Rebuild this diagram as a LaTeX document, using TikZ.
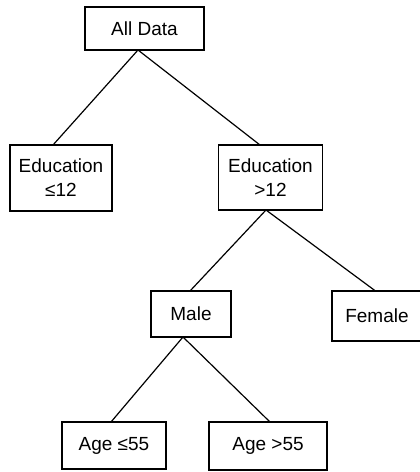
\documentclass[tikz,border=0pt]{standalone}
\usepackage{fontspec}
\setmainfont{Liberation Sans}
\begin{document}
\begin{tikzpicture}[x=1pt,y=-1pt,
  box/.style={draw, line width=1.4pt, inner sep=0pt, outer sep=0pt, align=center,
    font=\fontsize{19}{24}\selectfont},
  link/.style={line width=1.2pt}]
\useasboundingbox (0,0) rectangle (420,472);
\node[box, minimum width=119pt, minimum height=43pt] (all) at (144.5,28.5) {All Data};
\node[box, minimum width=102pt, minimum height=66pt] (edu1) at (61,178) {Education\\≤12};
\node[box, minimum width=104pt, minimum height=65pt] (edu2) at (270.5,177.5) {Education\\>12};
\node[box, minimum width=80pt, minimum height=46pt] (male) at (191,314) {Male};
\node[box, minimum width=90pt, minimum height=50pt] (female) at (377,316) {Female};
\node[box, minimum width=104pt, minimum height=47pt] (age1) at (114,445.5) {Age ≤55};
\node[box, minimum width=118pt, minimum height=48pt] (age2) at (268,446) {Age >55};
\draw[link] ([xshift=-6.5pt]all.south) -- ([xshift=-8pt]edu1.north);
\draw[link] ([xshift=-6.5pt]all.south) -- ([xshift=-10.5pt]edu2.north);
\draw[link] ([xshift=-4.5pt]edu2.south) -- ([xshift=-1pt]male.north);
\draw[link] ([xshift=-4.5pt]edu2.south) -- ([xshift=-1.5pt]female.north);
\draw[link] ([xshift=-8pt]male.south) -- ([xshift=-3pt]age1.north);
\draw[link] ([xshift=-8pt]male.south) -- ([xshift=2pt]age2.north);
\end{tikzpicture}
\end{document}
